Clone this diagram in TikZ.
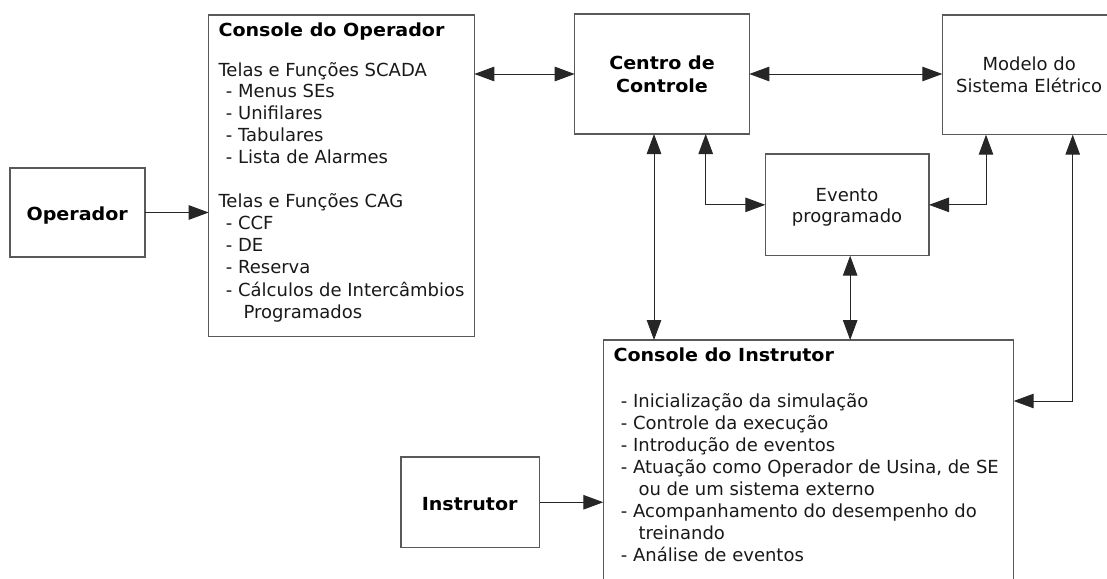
\documentclass[tikz,border=0pt]{standalone}
\usepackage{fontspec}
\setmainfont{DejaVu Sans}
\newfontfamily\bfam{DejaVu Sans}[FakeStretch=1.06]
\usetikzlibrary{arrows.meta}
\begin{document}
\begin{tikzpicture}[x=1pt,y=-1pt,
  box/.style={draw=black!65, line width=1.2pt, inner sep=0pt, outer sep=0pt},
  tip/.tip={Triangle[length=20pt,width=14.5pt]},
  arr/.style={draw=black!85, line width=1pt, -tip},
  dbl/.style={draw=black!85, line width=1pt, tip-tip},
  txt/.style={inner sep=0pt, anchor=base west, font=\fontsize{18}{22}\selectfont, text=black!90},
  ctxt/.style={txt, anchor=base},
  btxt/.style={txt, font=\bfam\bfseries\fontsize{18}{22}\selectfont, text=black},
  cbtxt/.style={btxt, anchor=base}]
\useasboundingbox (0,0) rectangle (1107,578);
\clip (0,0) rectangle (1107,578);

% boxes
\node[box, minimum width=135, minimum height=89] (op) at (77.5,212.5) {};
\node[box, minimum width=265.6, minimum height=321.7] (cop) at (341.5,175.85) {};
\node[box, minimum width=174.6, minimum height=120] (cc) at (662,74) {};
\node[box, minimum width=187.7, minimum height=119.7] (mod) at (1036.15,74.85) {};
\node[box, minimum width=163.7, minimum height=101.7] (ev) at (847.15,204.85) {};
\node[box, minimum width=410.4, minimum height=260] (ci) at (808.5,470) {};
\node[box, minimum width=138.5, minimum height=90.5] (ins) at (470.25,502.25) {};

% texts
\node[cbtxt] (opt) at (77.2,220.7) {Operador};
\node[cbtxt] (inst) at (469.7,510) {Instrutor};
\node[cbtxt] (cc1) at (662,69.3) {Centro de};
\node[cbtxt] (cc2) at (662,92.7) {Controle};
\node[ctxt] (mod1) at (1029.2,70.7) {Modelo do};
\node[ctxt] (mod2) at (1029.2,92.3) {Sistema Elétrico};
\node[ctxt] (ev1) at (847,201) {Evento};
\node[ctxt] (ev2) at (847,222.7) {programado};

\node[btxt] (copt) at (218.3,36.7) {Console do Operador};
\node[txt] (cop1) at (218.3,76) {Telas e Funções SCADA};
\node[txt] (cop2) at (225.7,97.8) {- Menus SEs};
\node[txt] (cop3) at (225.7,119.6) {- Unifilares};
\node[txt] (cop4) at (225.7,141.4) {- Tabulares};
\node[txt] (cop5) at (225.7,163.2) {- Lista de Alarmes};
\node[txt] (cop6) at (218.3,207.3) {Telas e Funções CAG};
\node[txt] (cop7) at (225.7,229.5) {- CCF};
\node[txt] (cop8) at (225.7,251.5) {- DE};
\node[txt] (cop9) at (225.7,273.5) {- Reserva};
\node[txt] (cop10) at (225.7,296) {- Cálculos de Intercâmbios};
\node[txt] (cop11) at (243.3,318.5) {Programados};

\node[btxt] (cit) at (613.3,361.7) {Console do Instrutor};
\node[txt] (ci1) at (620.7,407.3) {- Inicialização da simulação};
\node[txt] (ci2) at (620.7,429.3) {- Controle da execução};
\node[txt] (ci3) at (620.7,451) {- Introdução de eventos};
\node[txt] (ci4) at (620.7,473.3) {- Atuação como Operador de Usina, de SE};
\node[txt] (ci5) at (638.3,495) {ou de um sistema externo};
\node[txt] (ci6) at (620.7,517.3) {- Acompanhamento do desempenho do};
\node[txt] (ci7) at (638.3,539) {treinando};
\node[txt] (ci8) at (620.7,561.7) {- Análise de eventos};

% connectors
\draw[arr] (op.east) -- (op.east -| cop.west);
\draw[arr] (ins.east) -- (ins.east -| ci.west);
\draw[dbl] (cop.east |- cc.west) -- (cc.west);
\draw[dbl] (cc.east) -- (cc.east -| mod.west);
\draw[dbl] ([xshift=-8pt]cc.south) -- ([xshift=-8pt]cc.south |- ci.north);
\draw[dbl] ([xshift=43.7pt]cc.south) |- (ev.west);
\draw[dbl] ([xshift=43.7pt]mod.south west) |- (ev.east);
\draw[dbl] ([xshift=3pt]ev.south) -- ([xshift=3pt]ev.south |- ci.north);
\draw[dbl] ([xshift=130.4pt]mod.south west) |- ([yshift=69pt]ci.east);
\end{tikzpicture}
\end{document}
